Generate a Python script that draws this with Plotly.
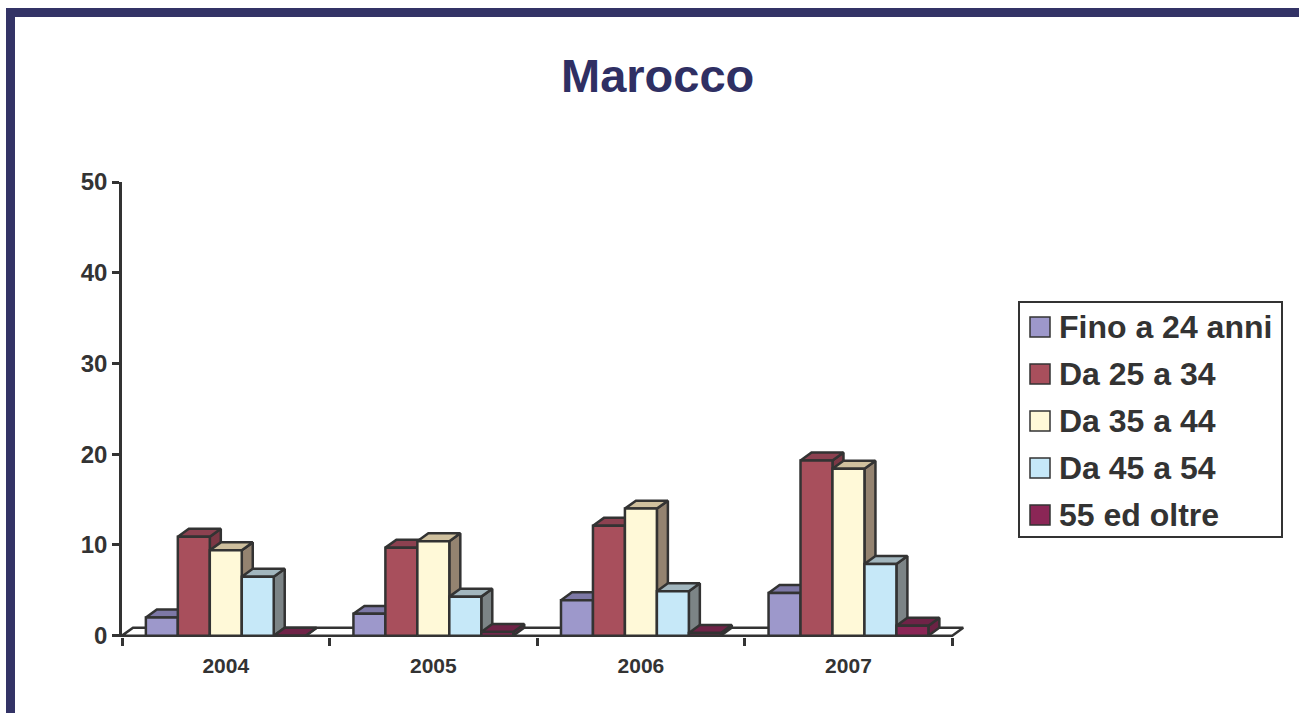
import plotly.graph_objects as go

# ---- data -------------------------------------------------------------
years = ["2004", "2005", "2006", "2007"]
age_groups = ["Fino a 24 anni", "Da 25 a 34", "Da 35 a 44", "Da 45 a 54", "55 ed oltre"]
fino_24 = [2.0, 2.4, 3.9, 4.7]
da_25_34 = [10.9, 9.7, 12.1, 19.3]
da_35_44 = [9.4, 10.4, 14.0, 18.4]
da_45_54 = [6.5, 4.3, 4.9, 7.9]
oltre_55 = [0.0, 0.4, 0.3, 1.1]
y_ticks = [0, 10, 20, 30, 40, 50]

series = [fino_24, da_25_34, da_35_44, da_45_54, oltre_55]

# ---- style ------------------------------------------------------------
FONT = "Liberation Sans, Arial, sans-serif"
EDGE = "#333333"
TXT = "#333333"
NAVY = "#333366"
# (front, top, side) shades for each age group
face_colors = [
    ("#9D98CB", "#7D78A6", "#6A6690"),
    ("#A84F5C", "#8C4150", "#7C3845"),
    ("#FFF9D8", "#CFC09E", "#948370"),
    ("#C6E8F8", "#A2B6BE", "#7C8486"),
    ("#8B2656", "#6F2347", "#6B2244"),
]
BAR_W = 0.154     # bar width in category units
DX = 0.053        # depth offset, x (category units)
DY = 0.88         # depth offset, y (value units)
EDGE_W = 2.5

# plot-area geometry in pixels (used for paper-space decorations)
W, H = 1299, 713
PLOT_L, PLOT_T, PLOT_W, PLOT_H = 122, 182, 851, 455


def fx(px):
    return (px - PLOT_L) / PLOT_W


def fy(py):
    return (PLOT_T + PLOT_H - py) / PLOT_H


fig = go.Figure()


def face(xs, ys, fill):
    fig.add_trace(go.Scatter(
        x=xs + [xs[0]], y=ys + [ys[0]], mode="lines", fill="toself",
        fillcolor=fill, line=dict(color=EDGE, width=EDGE_W),
        hoverinfo="skip", showlegend=False,
    ))


# floor of the 3D chart
face([-0.5, 3.5, 3.5 + DX, -0.5 + DX], [0, 0, DY, DY], "white")

# 3D bars: side, top, then front face, left to right
for gi in range(len(years)):
    for k, vals in enumerate(series):
        v = vals[gi]
        left = gi - 2.5 * BAR_W + k * BAR_W
        right = left + BAR_W
        front, top, side = face_colors[k]
        face([right, right + DX, right + DX, right], [0, DY, v + DY, v], side)
        face([left, right, right + DX, left + DX], [v, v, v + DY, v + DY], top)
        face([left, right, right, left], [0, 0, v, v], front)

# ---- decorations: frame, title, legend --------------------------------
shapes = [
    dict(type="rect", xref="paper", yref="paper", x0=fx(6), x1=fx(1299), y0=fy(8), y1=fy(17),
         fillcolor=NAVY, line=dict(width=0), layer="above"),
    dict(type="rect", xref="paper", yref="paper", x0=fx(6), x1=fx(15), y0=fy(8), y1=fy(713),
         fillcolor=NAVY, line=dict(width=0), layer="above"),
    dict(type="rect", xref="paper", yref="paper", x0=fx(1019), x1=fx(1282), y0=fy(302), y1=fy(537),
         fillcolor="white", line=dict(color=EDGE, width=2)),
]
annotations = [
    dict(xref="paper", yref="paper", x=fx(657), y=fy(76), text="<b>Marocco</b>",
         showarrow=False, xanchor="center", yanchor="middle",
         font=dict(family=FONT, size=47, color="#2F2F63")),
]
row_y = [327, 374, 421, 468, 515]
for k, name in enumerate(age_groups):
    cy = row_y[k]
    shapes.append(dict(type="rect", xref="paper", yref="paper",
                       x0=fx(1030), x1=fx(1050), y0=fy(cy + 10), y1=fy(cy - 10),
                       fillcolor=face_colors[k][0], line=dict(color=EDGE, width=1.5)))
    annotations.append(dict(xref="paper", yref="paper", x=fx(1057), y=fy(cy), text=f"<b>{name}</b>",
                            showarrow=False, xanchor="left", yanchor="middle",
                            font=dict(family=FONT, size=32, color=TXT)))

fig.update_layout(
    width=W, height=H, autosize=False,
    margin=dict(l=PLOT_L, r=W - PLOT_L - PLOT_W, t=PLOT_T, b=H - PLOT_T - PLOT_H, pad=0),
    paper_bgcolor="white", plot_bgcolor="white",
    showlegend=False,
    shapes=shapes, annotations=annotations,
    xaxis=dict(
        range=[-0.5, 3.6], tickmode="array", tickvals=[0, 1, 2, 3], ticktext=years,
        ticks="outside", ticklen=10, tickcolor="rgba(0,0,0,0)",
        showgrid=False, zeroline=False, showline=False,
        tickfont=dict(family=FONT, size=21, color=TXT, weight="bold"),
        minor=dict(tickmode="array", tickvals=[-0.5, 0.5, 1.5, 2.5, 3.5], ticks="outside",
                   ticklen=8, tickwidth=2.5, tickcolor=EDGE, showgrid=False),
    ),
    yaxis=dict(
        range=[-0.15, 50], tickmode="array", tickvals=y_ticks,
        ticks="outside", ticklen=7, tickwidth=2.5, tickcolor=EDGE,
        showline=True, linewidth=2.5, linecolor=EDGE,
        showgrid=False, zeroline=False,
        tickfont=dict(family=FONT, size=24, color=TXT, weight="bold"),
    ),
)

fig.write_html("out.html")
